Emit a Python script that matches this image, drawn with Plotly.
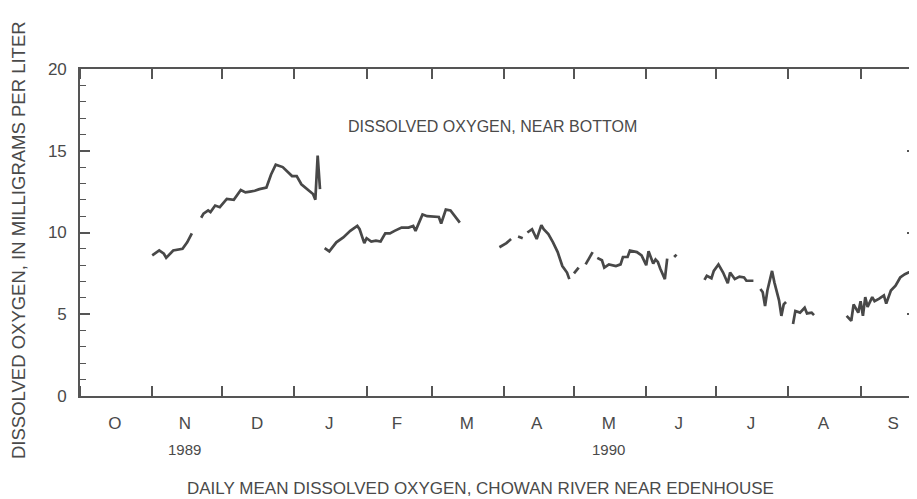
import plotly.graph_objects as go

# ---- data ----
seg1_dates = ["1989-11-01", "1989-11-04", "1989-11-06", "1989-11-07", "1989-11-10",
              "1989-11-12", "1989-11-14", "1989-11-16", "1989-11-18"]
seg1_vals = [8.6, 8.9, 8.7, 8.45, 8.9, 8.95, 9.0, 9.4, 9.95]

seg2_dates = ["1989-11-22", "1989-11-23", "1989-11-25", "1989-11-26", "1989-11-28",
              "1989-11-30", "1989-12-03", "1989-12-06", "1989-12-09", "1989-12-11",
              "1989-12-13", "1989-12-15", "1989-12-17", "1989-12-20", "1989-12-22",
              "1989-12-24", "1989-12-27", "1989-12-31", "1990-01-02", "1990-01-04",
              "1990-01-09", "1990-01-10", "1990-01-11", "1990-01-12"]
seg2_vals = [10.9, 11.15, 11.35, 11.25, 11.65, 11.55, 12.05, 12.0, 12.6, 12.45,
             12.5, 12.55, 12.65, 12.75, 13.55, 14.15, 14.0, 13.45, 13.45, 12.95,
             12.35, 12.0, 14.7, 12.65]

seg3_dates = ["1990-01-14", "1990-01-16", "1990-01-19", "1990-01-22", "1990-01-25",
              "1990-01-28", "1990-01-29", "1990-01-31", "1990-02-01", "1990-02-03",
              "1990-02-05", "1990-02-07", "1990-02-09", "1990-02-11", "1990-02-13",
              "1990-02-16", "1990-02-19", "1990-02-21", "1990-02-22", "1990-02-25",
              "1990-02-27", "1990-03-02", "1990-03-04", "1990-03-05", "1990-03-07",
              "1990-03-09", "1990-03-11", "1990-03-13"]
seg3_vals = [9.05, 8.85, 9.4, 9.7, 10.1, 10.4, 10.2, 9.35, 9.65, 9.45,
             9.5, 9.45, 9.95, 9.95, 10.1, 10.3, 10.3, 10.4, 10.1, 11.1,
             11.0, 10.95, 10.95, 10.55, 11.4, 11.35, 10.95, 10.6]

seg4_dates = ["1990-03-30", "1990-04-02", "1990-04-04"]
seg4_vals = [9.1, 9.35, 9.6]

seg5_dates = ["1990-04-07", "1990-04-09"]
seg5_vals = [9.75, 9.65]

seg6_dates = ["1990-04-11", "1990-04-13", "1990-04-15", "1990-04-17", "1990-04-18",
              "1990-04-20", "1990-04-22", "1990-04-24", "1990-04-26", "1990-04-28",
              "1990-04-29"]
seg6_vals = [10.0, 10.2, 9.6, 10.45, 10.2, 9.9, 9.4, 8.8, 7.95, 7.55, 7.15]

seg7_dates = ["1990-05-01", "1990-05-03"]
seg7_vals = [7.5, 7.85]

seg8_dates = ["1990-05-06", "1990-05-09"]
seg8_vals = [8.05, 8.8]

seg9_dates = ["1990-05-11", "1990-05-13", "1990-05-14", "1990-05-16", "1990-05-19",
              "1990-05-21", "1990-05-22", "1990-05-24", "1990-05-25", "1990-05-28",
              "1990-05-30", "1990-06-01", "1990-06-02", "1990-06-04", "1990-06-05",
              "1990-06-06", "1990-06-07", "1990-06-09", "1990-06-10"]
seg9_vals = [8.45, 8.3, 7.85, 8.05, 7.95, 8.05, 8.5, 8.5, 8.9, 8.8,
             8.6, 8.0, 8.85, 8.1, 8.35, 8.2, 7.8, 7.15, 8.4]

seg10_dates = ["1990-06-13", "1990-06-14"]
seg10_vals = [8.5, 8.65]

seg11_dates = ["1990-06-26", "1990-06-27", "1990-06-29", "1990-06-30", "1990-07-02",
               "1990-07-04", "1990-07-06", "1990-07-07", "1990-07-09", "1990-07-11",
               "1990-07-13", "1990-07-14", "1990-07-17"]
seg11_vals = [7.1, 7.35, 7.2, 7.65, 8.05, 7.55, 6.9, 7.55, 7.15, 7.3,
              7.25, 7.05, 7.05]

seg12_dates = ["1990-07-20", "1990-07-21", "1990-07-22", "1990-07-23", "1990-07-25",
               "1990-07-26", "1990-07-28", "1990-07-29", "1990-07-30", "1990-07-31"]
seg12_vals = [6.55, 6.35, 5.5, 6.45, 7.65, 6.95, 5.85, 4.9, 5.6, 5.75]

seg13_dates = ["1990-08-03", "1990-08-04", "1990-08-06", "1990-08-08", "1990-08-09",
               "1990-08-11", "1990-08-12"]
seg13_vals = [4.4, 5.2, 5.1, 5.4, 5.05, 5.1, 4.95]

seg14_dates = ["1990-08-26", "1990-08-28", "1990-08-29", "1990-08-31", "1990-09-01",
               "1990-09-02", "1990-09-03", "1990-09-04", "1990-09-06", "1990-09-07",
               "1990-09-09", "1990-09-11", "1990-09-12", "1990-09-14", "1990-09-16",
               "1990-09-18", "1990-09-20", "1990-09-23", "1990-09-25"]
seg14_vals = [4.9, 4.6, 5.6, 5.1, 5.8, 4.9, 6.05, 5.45, 6.05, 5.8,
              5.95, 6.15, 5.65, 6.45, 6.75, 7.25, 7.45, 7.65, 7.8]

segments = [(seg1_dates, seg1_vals), (seg2_dates, seg2_vals), (seg3_dates, seg3_vals),
            (seg4_dates, seg4_vals), (seg5_dates, seg5_vals), (seg6_dates, seg6_vals),
            (seg7_dates, seg7_vals), (seg8_dates, seg8_vals), (seg9_dates, seg9_vals),
            (seg10_dates, seg10_vals), (seg11_dates, seg11_vals), (seg12_dates, seg12_vals),
            (seg13_dates, seg13_vals), (seg14_dates, seg14_vals)]

month_mid = ["1989-10-16", "1989-11-15", "1989-12-16", "1990-01-16", "1990-02-14",
             "1990-03-16", "1990-04-15", "1990-05-16", "1990-06-15", "1990-07-16",
             "1990-08-16", "1990-09-15"]
month_labels = ["O", "N", "D", "J", "F", "M", "A", "M", "J", "J", "A", "S"]
year_pos = ["1989-11-15", "1990-05-16"]
year_labels = ["1989", "1990"]

# ---- build trace ----
xs, ys = [], []
for d, v in segments:
    if xs:
        xs.append(None)
        ys.append(None)
    xs.extend(d)
    ys.extend(v)

FONT = "Liberation Sans, Arial, Helvetica, sans-serif"
TXT = "#4a4a4a"
AX = "#555555"

fig = go.Figure()
fig.add_trace(go.Scatter(x=xs, y=ys, mode="lines", connectgaps=False,
                         line=dict(color="#484848", width=2.7), hoverinfo="skip"))

# the page body offsets the figure by 8px, so the figure is 909x491
fig.update_layout(
    width=909, height=491,
    margin=dict(l=72, r=0, t=61, b=103, autoexpand=False),
    paper_bgcolor="white", plot_bgcolor="white",
    showlegend=False,
    font=dict(family=FONT, color=TXT, size=17),
    xaxis=dict(
        type="date", automargin=False,
        range=["1989-10-01", "1990-09-25 05:00"],
        tickmode="array", tickvals=month_mid, ticktext=month_labels,
        ticks="", ticklen=0,
        ticklabelstandoff=11,
        tickfont=dict(size=17, color=TXT),
        showgrid=False, zeroline=False,
        showline=True, linecolor=AX, linewidth=1.6, mirror="ticks",
        minor=dict(tickmode="linear", tick0="1989-10-01", dtick="M1",
                   ticks="inside", ticklen=10, tickwidth=1.5, tickcolor=AX,
                   showgrid=False),
    ),
    yaxis=dict(
        automargin=False,
        range=[0, 20],
        tickmode="linear", tick0=0, dtick=5,
        ticks="inside", ticklen=10, tickwidth=1.5, tickcolor=AX,
        ticklabelstandoff=8,
        tickfont=dict(size=17, color=TXT),
        showgrid=False, zeroline=False,
        showline=True, linecolor=AX, linewidth=1.6, mirror="ticks",
        minor=dict(dtick=1, ticks="inside", ticklen=6, tickwidth=1.3,
                   tickcolor=AX, showgrid=False),
    ),
)

for xp, lab in zip(year_pos, year_labels):
    fig.add_annotation(x=xp, xref="x", y=-0.165, yref="paper", text=lab,
                       showarrow=False, font=dict(size=15, color=TXT),
                       xanchor="center", yanchor="middle")

fig.add_annotation(x=0.493, xref="paper", y=0.824, yref="paper",
                   text="DISSOLVED OXYGEN, NEAR BOTTOM", showarrow=False,
                   font=dict(size=16, color=TXT), xanchor="center", yanchor="middle")

fig.add_annotation(x=(18 - 80) / 837, xref="paper", y=(396 - 240) / 327, yref="paper",
                   text="DISSOLVED OXYGEN, IN MILLIGRAMS PER LITER", textangle=-90,
                   showarrow=False, font=dict(size=18.5, color=TXT),
                   xanchor="center", yanchor="middle")

fig.add_annotation(x=(480 - 80) / 837, xref="paper", y=(396 - 488) / 327, yref="paper",
                   text="DAILY MEAN DISSOLVED OXYGEN, CHOWAN RIVER NEAR EDENHOUSE",
                   showarrow=False, font=dict(size=17, color=TXT),
                   xanchor="center", yanchor="middle")

fig.write_html("out.html")
